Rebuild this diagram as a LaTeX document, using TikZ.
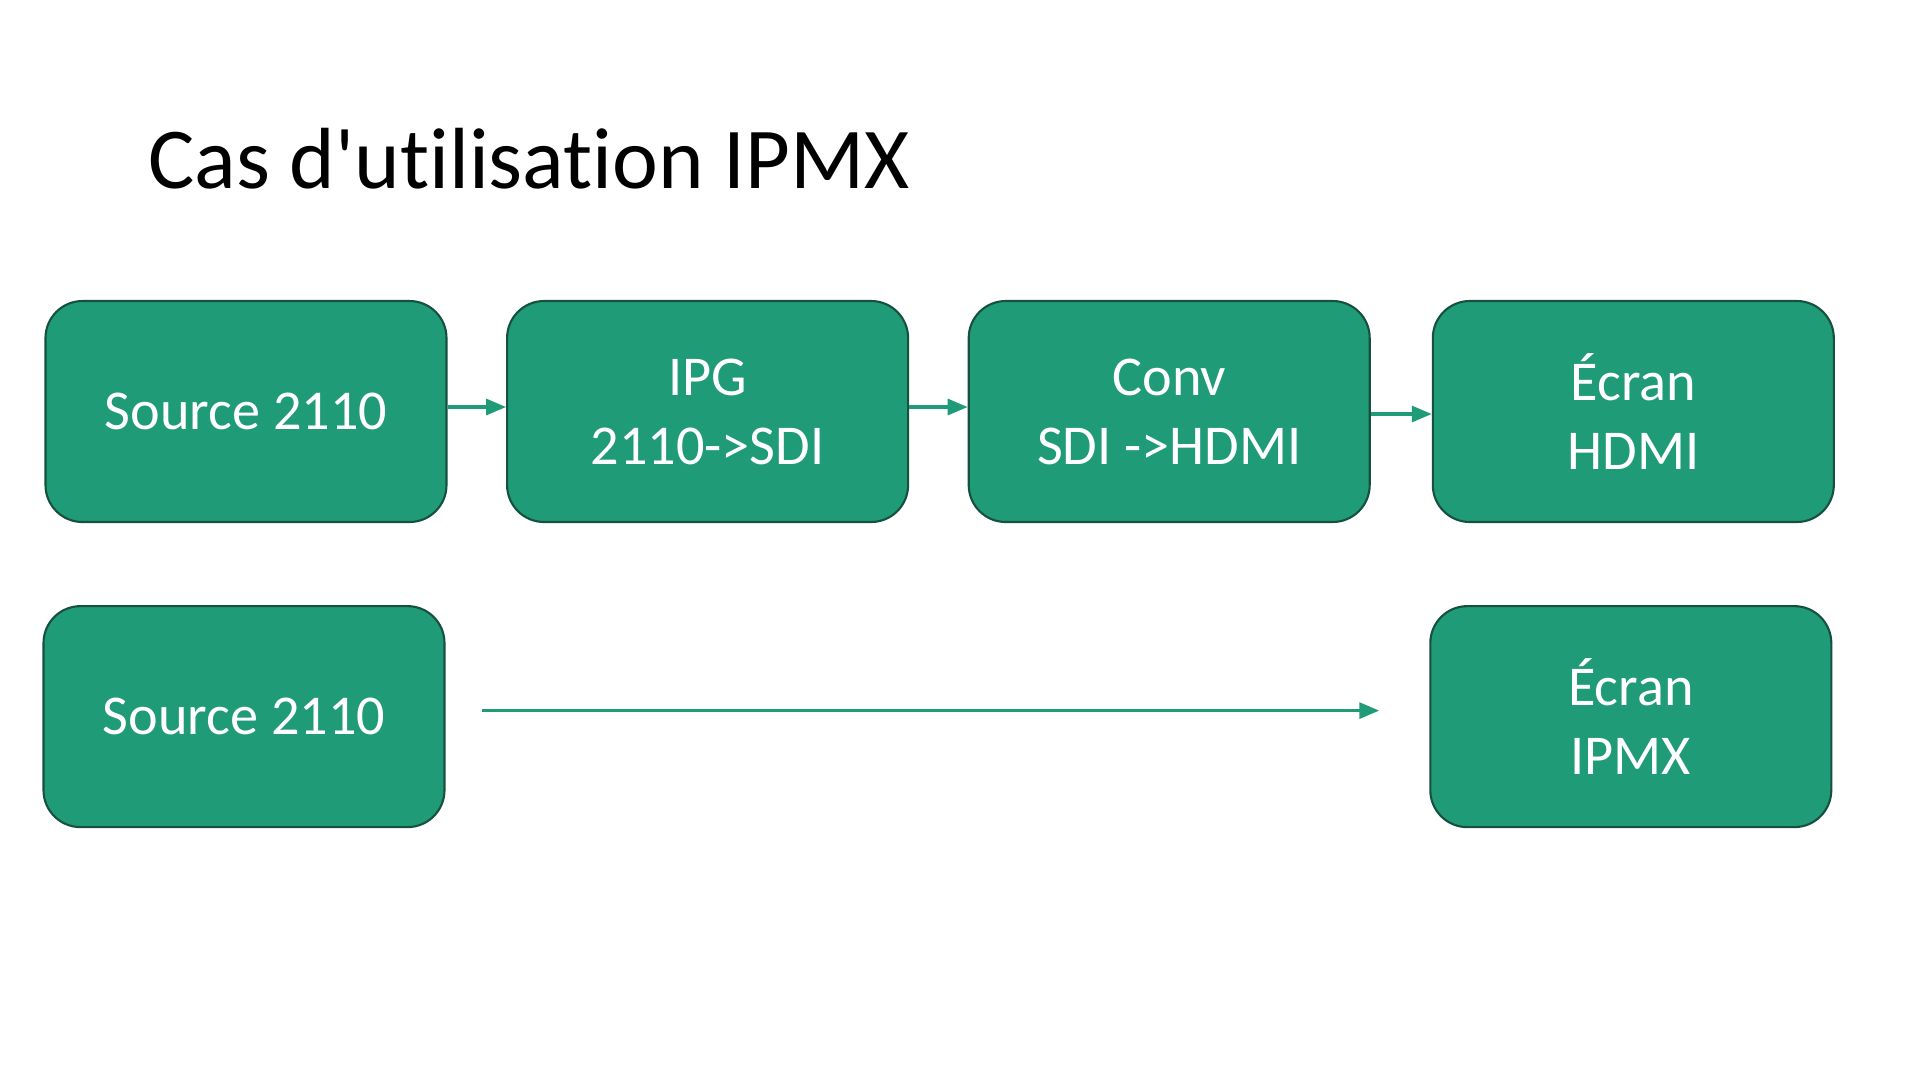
\documentclass[tikz,border=0pt]{standalone}
\usepackage{fontspec}
\setmainfont{Carlito}[Ligatures={TeXOff,NoCommon}]
\usepackage{xcolor}
\usetikzlibrary{positioning,arrows.meta}
\definecolor{boxgreen}{RGB}{31,155,120}
\definecolor{edgegreen}{RGB}{22,80,62}

\begin{document}
\begin{tikzpicture}[
      x=0.1mm, y=-0.1mm,
      node distance = 6.1mm and 5.85mm,
      box/.style = {draw=edgegreen, line width=0.6pt, fill=boxgreen, rounded corners=3.7mm,
                    minimum width=40.1mm, minimum height=22.1mm, align=center,
                    text=white, font=\fontsize{16}{19.6}\selectfont},
      flow/.style = {draw=boxgreen, line width=0.9pt, -{Triangle[length=2mm,width=1.6mm]}}
    ]
    \useasboundingbox (0,0) rectangle (1920,1080);
    \node[anchor=base west, font=\fontsize{24.7}{30}\selectfont] (title) at (136,188) {Cas d'utilisation IPMX};
    % first row
    \node[box] (src1) at (246,411.5) {Source 2110};
    \node[box, right=of src1] (ipg) {IPG\\2110->SDI};
    \node[box, right=of ipg] (conv) {Conv\\SDI ->HDMI};
    \node[box, right=6.1mm of conv] (hdmi) {Écran\\HDMI};
    % second row
    \node[box, below=8.2mm of src1, xshift=-0.2mm] (src2) {Source 2110};
    \node[box, below=8.2mm of hdmi, xshift=-0.25mm] (ipmx) {Écran\\IPMX};
    \draw[flow] ([yshift=0.45mm]src1.east) -- ([yshift=0.45mm]ipg.west);
    \draw[flow] ([yshift=0.45mm]ipg.east) -- ([yshift=0.45mm]conv.west);
    \draw[flow] ([yshift=-0.25mm]conv.east) -- ([yshift=-0.25mm]hdmi.west);
    \draw[flow, shorten <=3.6mm, shorten >=5mm] ([yshift=0.6mm]src2.east) -- ([yshift=0.6mm]ipmx.west);
  \end{tikzpicture}
\end{document}
